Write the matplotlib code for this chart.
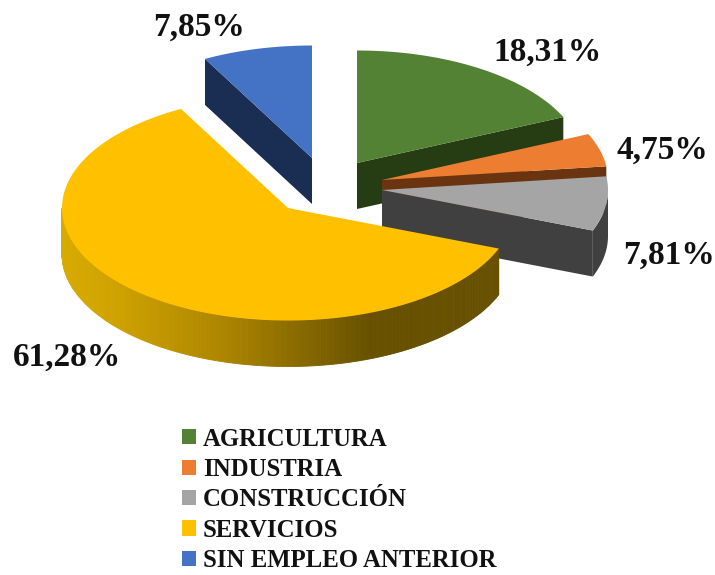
import numpy as np
import matplotlib
matplotlib.use("Agg")
import matplotlib.pyplot as plt
from matplotlib.patches import Polygon, Patch
from matplotlib.colors import LinearSegmentedColormap

categories = ["AGRICULTURA", "INDUSTRIA", "CONSTRUCCIÓN", "SERVICIOS", "SIN EMPLEO ANTERIOR"]
shares = [18.31, 4.75, 7.81, 61.28, 7.85]
value_labels = ["18,31%", "4,75%", "7,81%", "61,28%", "7,85%"]

top_colors = ["#548235", "#ED7D31", "#A5A5A5", "#FFC000", "#4472C4"]
side_colors = ["#263D14", "#6B3410", "#404040", "#6B5000", "#1A2D52"]
apexes = [(357, 163), (382, 180), (382, 190), (288, 208), (312, 158)]
label_pos = [(547, 52), (662, 150), (669, 255), (67, 357), (199, 27)]
A, B, DEPTH = 226, 112.5, 46
FONT = "Liberation Serif"

fig = plt.figure(figsize=(7.15, 5.75), dpi=100)
ax = fig.add_axes([0, 0, 1, 1])
ax.set_xlim(0, 715)
ax.set_ylim(575, 0)
ax.axis("off")


def rim(apex, t0, t1, n=120):
    t = np.radians(np.linspace(t0, t1, n))
    return np.column_stack([apex[0] + A * np.sin(t), apex[1] - B * np.cos(t)])


yellow_side = LinearSegmentedColormap.from_list(
    "ys", [(0, "#D8AB00"), (0.12, "#CFA200"), (0.35, "#B08800"), (0.71, "#675000"), (1, "#675000")])

edges = np.cumsum([0] + shares) / sum(shares) * 360
for i in range(len(shares)):
    t0, t1 = edges[i], edges[i + 1]
    apex = np.array(apexes[i], float)
    z = 2 + [0, 1, 2, 4, 3][i]
    r = rim(apex, t0, t1)
    down = np.array([0, DEPTH])
    # cut faces that look towards the viewer
    if i == 4:
        p0 = r[0]
        ax.add_patch(Polygon([p0, apex, apex + down, p0 + down], fc=side_colors[i], ec="none", zorder=z))
    elif i < 3:
        p1 = r[-1]
        ax.add_patch(Polygon([apex, p1, p1 + down, apex + down], fc=side_colors[i], ec="none", zorder=z))
    # outer wall, only the front half
    f0, f1 = max(t0, 90), min(t1, 270)
    if f1 > f0:
        w = rim(apex, f0, f1, 240)
        if i == 3:
            x0, x1 = w[:, 0].min(), w[:, 0].max()
            for a, b in zip(w[:-1], w[1:]):
                c = yellow_side((a[0] - x0) / (x1 - x0))
                ax.add_patch(Polygon([a, b, b + down, a + down], fc=c, ec=c, lw=0.6, zorder=z))
        else:
            ax.add_patch(Polygon(np.vstack([w, (w + down)[::-1]]), fc=side_colors[i], ec="none", zorder=z))
    ax.add_patch(Polygon(np.vstack([apex, r]), fc=top_colors[i], ec="none", zorder=z + 0.5))

for (x, y), s in zip(label_pos, value_labels):
    ax.text(x, y, s, ha="center", va="center", family=FONT, fontweight="bold",
            fontsize=24, color="#111111", zorder=20)

handles = [Patch(fc=c, ec="none") for c in top_colors]
leg = ax.legend(handles, categories, loc="upper left", bbox_to_anchor=(182 / 715, 1 - 427.5 / 575),
                frameon=False, prop={"family": FONT, "weight": "bold", "size": 17.8},
                handlelength=0.57, handleheight=0.57, handletextpad=0.28,
                labelspacing=0.3, borderpad=0, borderaxespad=0)
for t in leg.get_texts():
    t.set_color("#111111")

fig.savefig("out.png", dpi=100)
